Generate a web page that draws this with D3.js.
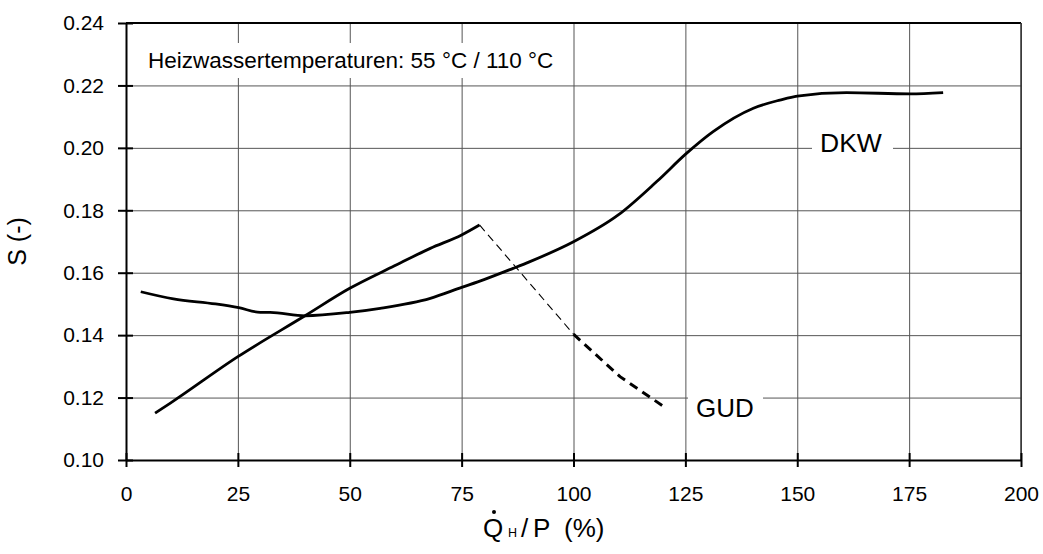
<!DOCTYPE html>
<html>
<head>
<meta charset="utf-8">
<script src="https://cdn.jsdelivr.net/npm/d3@7"></script>
<style>
body { margin: 0; background: #fff; }
text { font-family: "Liberation Sans", Arial, sans-serif; fill: #000; }
.grid line { stroke: #555; stroke-width: 1; }
.grid path { display: none; }
.axis path, .axis line { stroke: #000; stroke-width: 2; }
.tick text { font-size: 21px; }
</style>
</head>
<body>
<script>

// DKW curve (Q_H/P in %, S)
var dkwX = [3.3, 10.6, 20, 25.2, 30, 32.2, 40, 50, 56.8, 68, 75, 80, 86.5, 90, 100, 110, 118.6, 125.3, 131.2, 140.2, 146.1, 150, 161, 175.2, 182.6];
var dkwS = [0.1539, 0.1516, 0.1500, 0.1488, 0.1473, 0.1473, 0.1462, 0.1473, 0.1486, 0.1518, 0.1553, 0.1578, 0.1614, 0.1634, 0.1699, 0.1785, 0.1892, 0.1983, 0.2052, 0.2127, 0.2153, 0.2166, 0.2177, 0.2173, 0.2177];

// GUD solid part
var gudX = [6.5, 10, 25, 40, 50, 60, 68, 75, 79];
var gudS = [0.1150, 0.1183, 0.1331, 0.1462, 0.1550, 0.1622, 0.1678, 0.1721, 0.1753];
// GUD thin dashed part
var gudThinX = [79, 100];
var gudThinS = [0.1753, 0.1403];
// GUD thick dashed part
var gudThickX = [100, 110.4, 120.4];
var gudThickS = [0.1403, 0.1267, 0.1169];

var xTicks = [0, 25, 50, 75, 100, 125, 150, 175, 200];
var yTicks = [0.10, 0.12, 0.14, 0.16, 0.18, 0.20, 0.22, 0.24];

var W = 1043, H = 554;
var svg = d3.select("body").append("svg").attr("width", W).attr("height", H);

var x = d3.scaleLinear().domain([0, 200]).range([126, 1021]);
var y = d3.scaleLinear().domain([0.10, 0.24]).range([460, 23]);

// grid
svg.append("g").attr("class", "grid")
	.attr("transform", "translate(0," + y(0.10) + ")")
	.call(d3.axisBottom(x).tickValues(xTicks).tickSize(-(y(0.10) - y(0.24))).tickFormat(""));
svg.append("g").attr("class", "grid")
	.attr("transform", "translate(" + x(0) + ",0)")
	.call(d3.axisLeft(y).tickValues(yTicks).tickSize(-(x(200) - x(0))).tickFormat(""));

// plot frame top / right
svg.append("line").attr("x1", x(0)).attr("x2", x(200)).attr("y1", y(0.24)).attr("y2", y(0.24))
	.attr("stroke", "#000").attr("stroke-width", 1.8);
svg.append("line").attr("x1", x(200)).attr("x2", x(200)).attr("y1", y(0.24)).attr("y2", y(0.10))
	.attr("stroke", "#333").attr("stroke-width", 1.5);

// annotation box
svg.append("rect").attr("x", 130).attr("y", 43).attr("width", 435).attr("height", 35).attr("fill", "#fff");
svg.append("text").attr("x", 148).attr("y", 68).style("font-size", "22.5px")
	.text("Heizwassertemperaturen: 55 °C / 110 °C");

// lines
function pts(xs, ss) { return xs.map((v, i) => [v, ss[i]]); }
var line = d3.line().x(d => x(d[0])).y(d => y(d[1]));
var smooth = d3.line().x(d => x(d[0])).y(d => y(d[1])).curve(d3.curveMonotoneX);

svg.append("path").datum(pts(dkwX, dkwS)).attr("d", smooth)
	.attr("fill", "none").attr("stroke", "#000").attr("stroke-width", 2.8);
svg.append("path").datum(pts(gudX, gudS)).attr("d", smooth)
	.attr("fill", "none").attr("stroke", "#000").attr("stroke-width", 2.8);
svg.append("path").datum(pts(gudThinX, gudThinS)).attr("d", line)
	.attr("fill", "none").attr("stroke", "#000").attr("stroke-width", 1.1).attr("stroke-dasharray", "8,5");
svg.append("path").datum(pts(gudThickX, gudThickS)).attr("d", line)
	.attr("fill", "none").attr("stroke", "#000").attr("stroke-width", 3).attr("stroke-dasharray", "9,6");

// series labels
svg.append("rect").attr("x", 812).attr("y", 125).attr("width", 81).attr("height", 34).attr("fill", "#fff");
svg.append("text").attr("x", 820).attr("y", 152).style("font-size", "26.5px").text("DKW");
svg.append("rect").attr("x", 688).attr("y", 390).attr("width", 75).attr("height", 34).attr("fill", "#fff");
svg.append("text").attr("x", 696).attr("y", 417).style("font-size", "26px").text("GUD");

// axes
svg.append("g").attr("class", "axis")
	.attr("transform", "translate(0," + y(0.10) + ")")
	.call(d3.axisBottom(x).tickValues(xTicks).tickSize(7).tickSizeOuter(0).tickPadding(19).tickFormat(d3.format("d")));
svg.append("g").attr("class", "axis")
	.attr("transform", "translate(0," + y(0.10) + ")")
	.call(d3.axisBottom(x).tickValues(xTicks).tickSize(-7).tickSizeOuter(0).tickFormat(""))
	.select(".domain").remove();

svg.append("g").attr("class", "axis")
	.attr("transform", "translate(" + x(0) + ",0)")
	.call(d3.axisLeft(y).tickValues(yTicks).tickSize(8).tickSizeOuter(0).tickPadding(14).tickFormat(d3.format(".2f")));
svg.append("g").attr("class", "axis")
	.attr("transform", "translate(" + x(0) + ",0)")
	.call(d3.axisLeft(y).tickValues(yTicks).tickSize(-7).tickSizeOuter(0).tickFormat(""))
	.select(".domain").remove();

svg.selectAll(".axis .tick line").attr("stroke-width", 1.5);

// axis titles
svg.append("text").attr("transform", "translate(26," + ((y(0.10) + y(0.24)) / 2) + ") rotate(-90)")
	.attr("text-anchor", "middle").style("font-size", "25px").text("S (-)");

var xt = svg.append("text").attr("y", 537).style("font-size", "26px");
xt.append("tspan").attr("x", 483).text("Q");
xt.append("tspan").attr("x", 508).style("font-size", "12.5px").text("H");
xt.append("tspan").attr("x", 521).text("/");
xt.append("tspan").attr("x", 533).text("P");
xt.append("tspan").attr("x", 564).text("(%)");
svg.append("circle").attr("cx", 494).attr("cy", 512).attr("r", 2).attr("fill", "#000");

</script>
</body>
</html>
